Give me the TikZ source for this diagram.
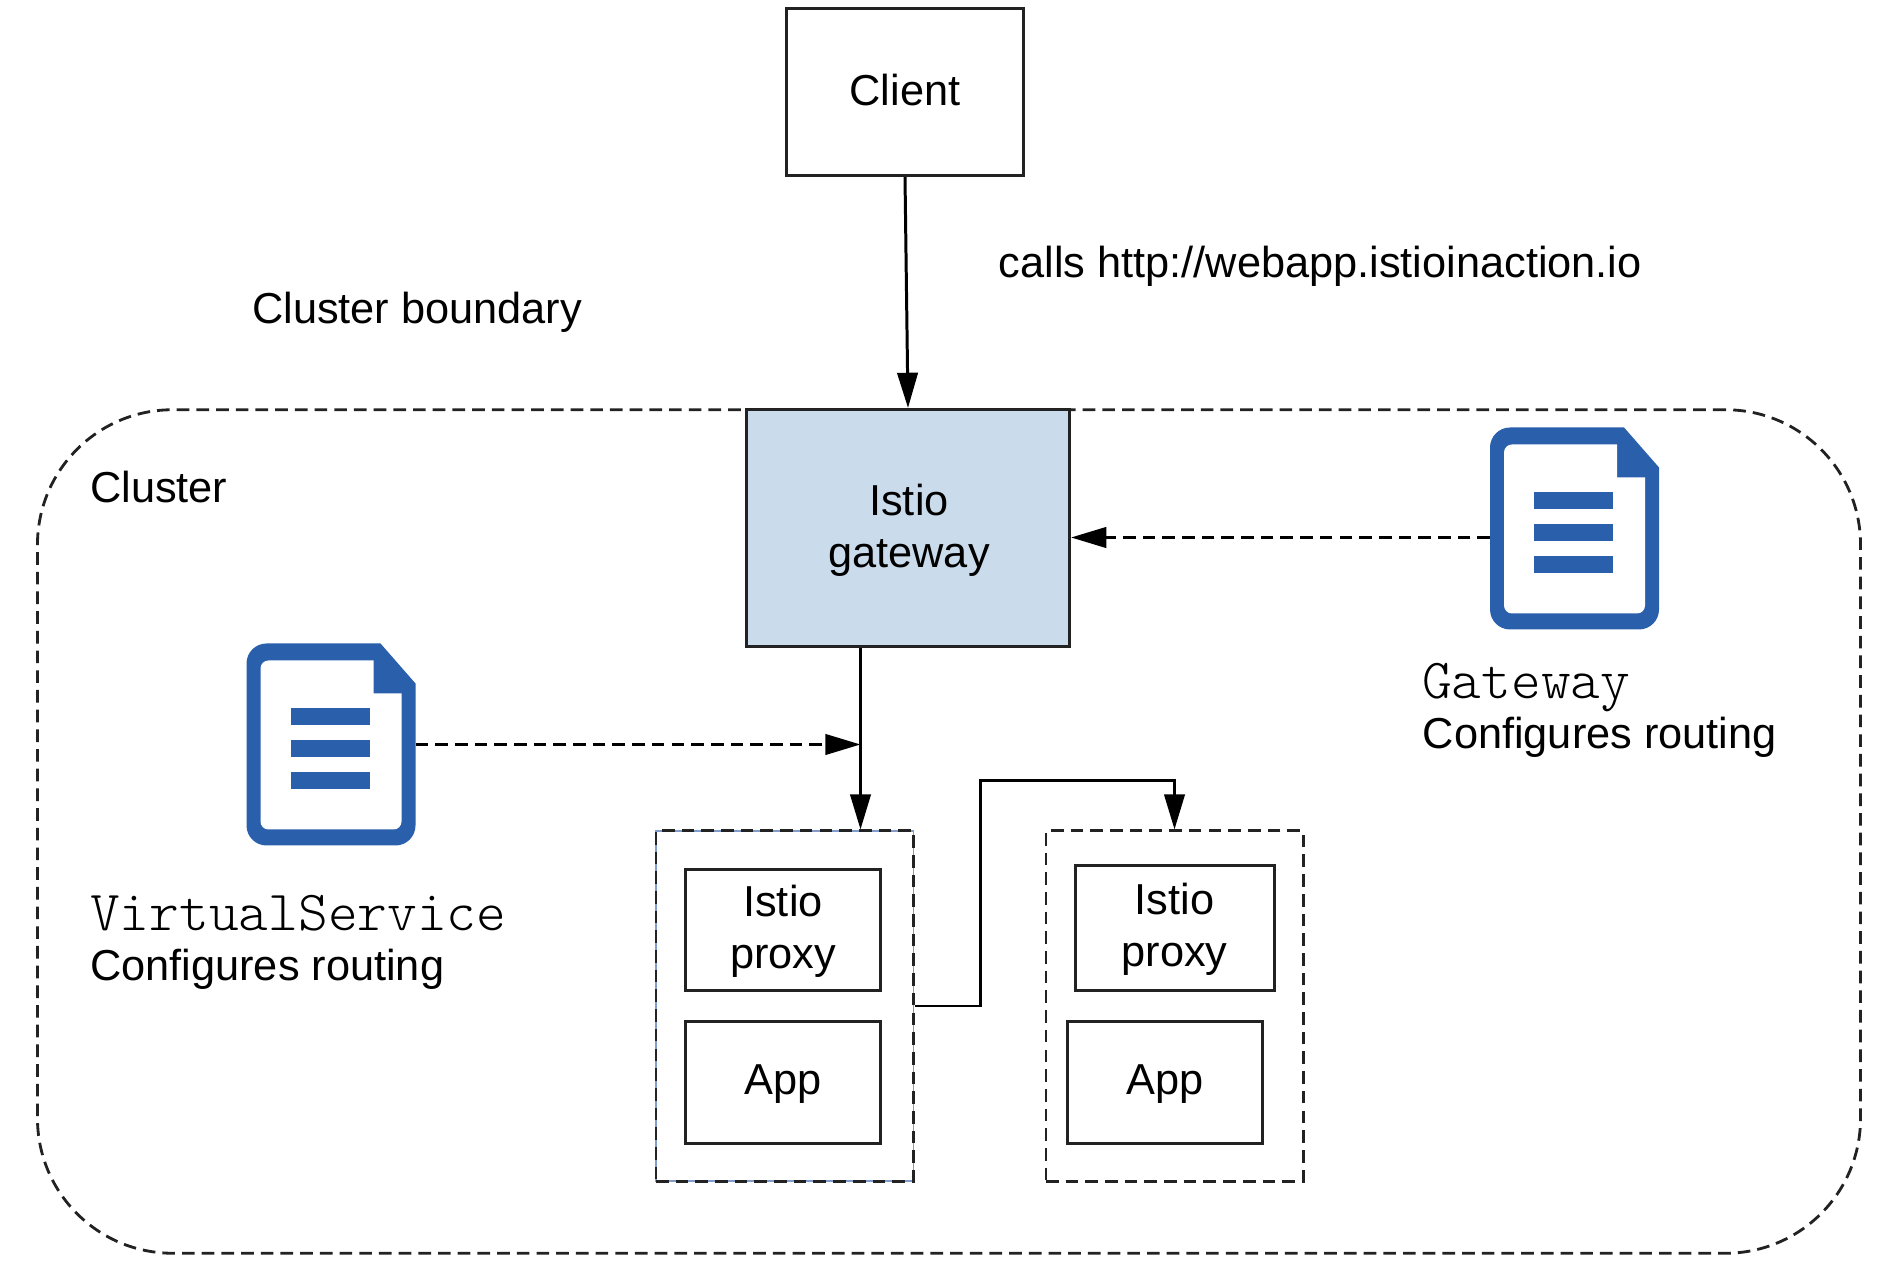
\documentclass[tikz,border=0pt]{standalone}
\usepackage{fontspec}
\setmainfont{Liberation Sans}
\setmonofont{Latin Modern Mono Light}
\usetikzlibrary{arrows.meta}
\definecolor{docblue}{HTML}{2A5FAC}
\definecolor{gwblue}{HTML}{CADCEC}
\definecolor{inkgray}{HTML}{222222}
\definecolor{podedge}{HTML}{7F9CCB}
\newcommand{\labelfont}{\fontsize{12.32}{14.7}\selectfont}
\newcommand{\kindfont}{\fontsize{16.1}{16.1}\ttfamily}
\tikzset{
  plainbox/.style={draw=inkgray,line width=0.85pt,inner sep=0pt},
  boxtext/.style={inner sep=0pt,align=center,font=\labelfont},
  dashbox/.style={draw=inkgray,line width=0.8pt,dash pattern=on 3.6pt off 2pt,inner sep=0pt},
  label/.style={anchor=west,inner sep=0pt,font=\labelfont},
  kind/.style={anchor=west,inner sep=0pt,font=\kindfont},
  flow/.style={->,line width=0.85pt},
  config/.style={->,line width=0.85pt,dash pattern=on 3.6pt off 2pt}
}
\begin{document}
\begin{tikzpicture}[line cap=butt,line join=miter,>={Triangle[length=10pt,width=5.8pt]},x=0.01cm,y=-0.01cm]
      \useasboundingbox (0,0) rectangle (1882,1268);
      \node[dashbox,rounded corners=1.35cm,minimum width=18.22cm,minimum height=8.43cm] (cluster) at (949,831.5) {};
      \node[plainbox,minimum width=2.37cm,minimum height=1.67cm] (client) at (905,92) {};
      \node[plainbox,fill=gwblue,minimum width=3.23cm,minimum height=2.37cm] (gateway) at (908,528) {};
      \node[dashbox,preaction={draw=podedge,solid,line width=0.5pt},minimum width=2.575cm,minimum height=3.5cm] (poda) at (784.75,1006) {};
      \node[dashbox,minimum width=2.57cm,minimum height=3.5cm] (podb) at (1174.5,1006) {};
      \node[plainbox,minimum width=1.94cm,minimum height=1.21cm] (proxya) at (783,930) {};
      \node[plainbox,minimum width=1.94cm,minimum height=1.21cm] (appa) at (783,1082.5) {};
      \node[plainbox,minimum width=1.99cm,minimum height=1.24cm] (proxyb) at (1175,928) {};
      \node[plainbox,minimum width=1.95cm,minimum height=1.21cm] (appb) at (1165,1082.5) {};
      \node[boxtext] (clienttext) at (905,90.5) {Client};
      \node[boxtext] (gatewaytext) at (909,530) {Istio\\gateway};
      \node[boxtext] (proxyatext) at (783,931) {Istio\\proxy};
      \node[boxtext] (appatext) at (783,1084.5) {App};
      \node[boxtext] (proxybtext) at (1174.5,929) {Istio\\proxy};
      \node[boxtext] (appbtext) at (1165,1084.5) {App};
      \foreach \ix/\iy in {1490/427.5,246.5/643.5}
      {
      \begin{scope}[shift={(\ix,\iy)}]
        \fill[docblue,rounded corners=0.2cm] (60,0) [sharp corners] -- (134,0) -- (169,40) [rounded corners=0.2cm] -- (169,202) -- (0,202) -- (0,0) -- cycle;
        \fill[white,rounded corners=0.08cm] (60,17) [sharp corners] -- (127,17) -- (127,50) -- (155,50) [rounded corners=0.08cm] -- (155,186) -- (14,186) -- (14,17) -- cycle;
        \foreach \by in {65,97,129}
        \fill[docblue] (44,\by) rectangle (123,\by+17);
      \end{scope}
      }
      \coordinate (gwdoc) at (1490,537.5);
      \coordinate (vsdoc) at (415.5,744.5);
      \coordinate (tap) at (860.5,744.5);
      \coordinate (elbow) at (980,780.5);
      \draw[flow] (client.south) -- (gateway.north);
      \draw[config] (gwdoc) -- (gwdoc -| gateway.east);
      \draw[config] (vsdoc) -- (tap);
      \draw[flow] (tap |- gateway.south) -- (tap |- poda.north);
      \draw[flow] (poda.east |- 0,1006) -| (elbow) -| (podb.north);
      \node[label] (calls) at (998,266.5) {calls http://webapp.istioinaction.io};
      \node[label] (boundary) at (251.5,312) {Cluster boundary};
      \node[label] (clustername) at (89.5,487) {Cluster};
      \node[kind] (gwkind) at (1421.5,687.5) {Gateway};
      \node[label] (gwnote) at (1422,737) {Configures routing};
      \node[kind] (vskind) at (89.5,913) {VirtualService};
      \node[label] (vsnote) at (89.5,969) {Configures routing};
\end{tikzpicture}
\end{document}
